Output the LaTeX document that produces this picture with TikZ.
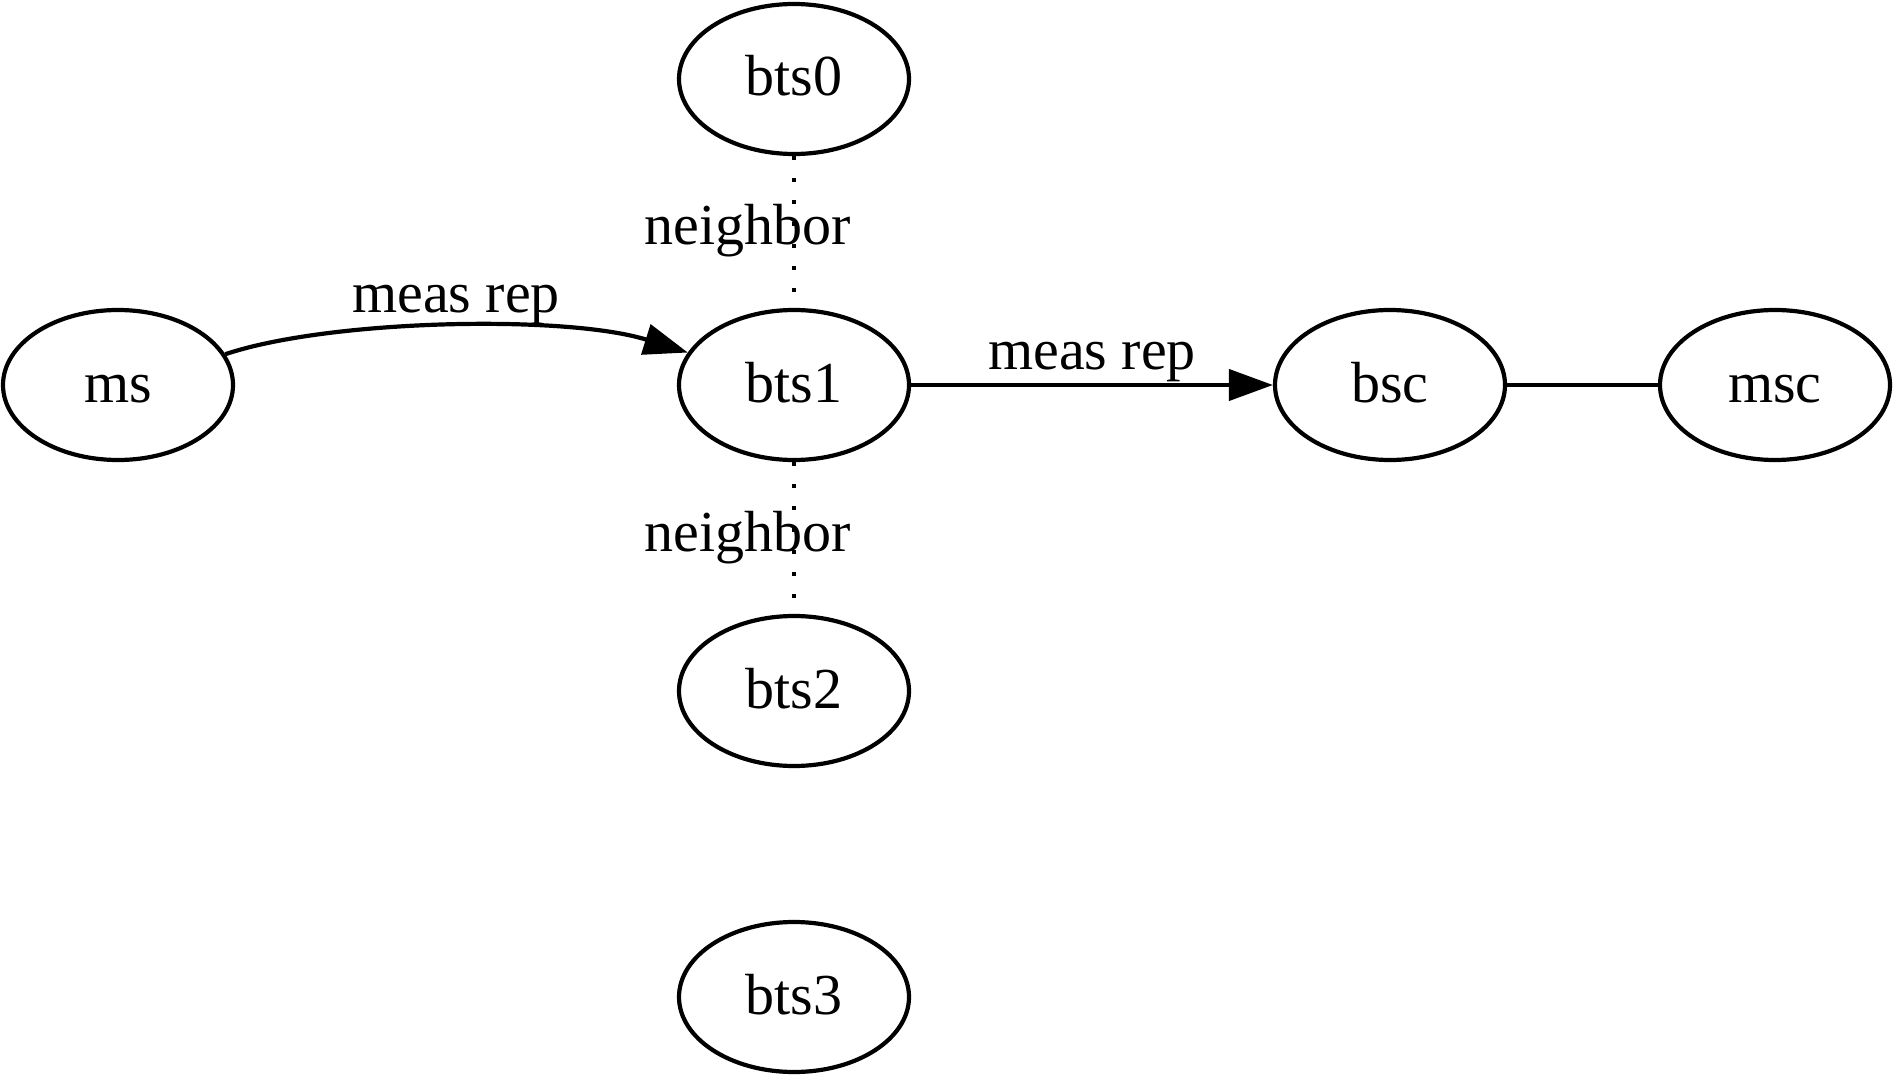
\documentclass[tikz,border=0pt]{standalone}
\usepackage{fontspec}
\setmainfont{Liberation Serif}
\usetikzlibrary{shapes.geometric,arrows.meta}
\begin{document}
\begin{tikzpicture}[x=1pt,y=-1pt,
  ell/.style={ellipse,draw,line width=4.2pt,minimum width=230pt,minimum height=150pt,inner sep=0pt,
    text height=40pt,text depth=6pt,font=\fontsize{58}{70}\selectfont},
  lbl/.style={inner sep=0pt,anchor=base,font=\fontsize{58}{70}\selectfont},
  conn/.style={line width=4.2pt},
  arr/.style={conn,-{Triangle[length=44pt,width=31pt]}},
  nbr/.style={line width=4.2pt,dash pattern=on 4.2pt off 17.8pt}]
\useasboundingbox (0,0) rectangle (1893,1075);

% stations and controllers
\node[ell] (ms)   at (118,385)  {ms};
\node[ell] (bts0) at (794,79)   {bts0};
\node[ell] (bts1) at (794,385)  {bts1};
\node[ell] (bts2) at (794,691)  {bts2};
\node[ell] (bts3) at (794,997)  {bts3};
\node[ell] (bsc)  at (1390,385) {bsc};
\node[ell] (msc)  at (1775,385) {msc};

% measurement reports
\draw[arr] (ms.16) .. controls +(104,-35) and +(-122,-38) .. (bts1.163);
\node[lbl] (l1) at (456,313) {meas rep};
\draw[arr] (bts1.east) -- (bsc.west);
\node[lbl] (l2) at (1092,369) {meas rep};
\draw[conn] (bsc.east) -- (msc.west);

% neighbour relations
\draw[nbr] (bts0.south) -- (bts1.north);
\node[lbl] (n1) at (748,245) {neighbor};
\draw[nbr] (bts1.south) -- (bts2.north);
\node[lbl] (n2) at (748,551) {neighbor};
\end{tikzpicture}
\end{document}
